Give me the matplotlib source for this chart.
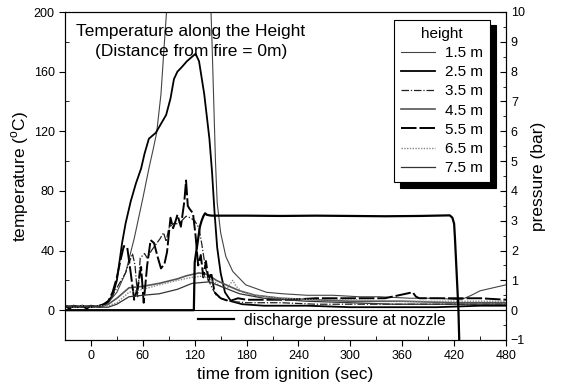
import matplotlib
matplotlib.use("Agg")
import matplotlib.pyplot as plt
from matplotlib.ticker import MultipleLocator

plt.rcParams['font.family'] = ['Liberation Sans', 'DejaVu Sans']

# temperature at each height (time in sec, temperature in degC)
t_15 = [-30, -20, -10, 0, 10, 15, 20, 30, 40, 50, 60, 67, 72, 76, 81, 85, 88, 95,
        130, 138, 140, 142, 144, 146, 150, 156, 164, 179, 203, 222, 250, 280, 310,
        334, 370, 400, 428, 440, 450, 465, 480]
T_15 = [2, 3, 2, 3, 2, 3, 5, 12, 25, 48, 75, 95, 108, 119, 145, 180, 205, 240,
        240, 215, 180, 140, 100, 72, 52, 36, 26, 17, 12, 11, 10, 10, 9,
        9, 8, 8, 7, 10, 13, 15, 17]

t_25 = [-30, -20, -10, 0, 10, 15, 20, 25, 30, 36, 40, 46, 52, 58, 62, 67, 75, 81, 87,
        92, 96, 100, 105, 111, 117, 121, 125, 131, 137, 140, 143, 146, 150, 155,
        162, 175, 200, 250, 300, 350, 400, 450, 480]
T_25 = [3, 2, 3, 2, 3, 4, 6, 10, 20, 45, 58, 73, 85, 95, 105, 115, 119, 125, 131,
        142, 155, 160, 163, 167, 170, 172, 167, 145, 115, 93, 65, 42, 25, 12,
        6, 4, 3, 3, 2, 2, 2, 3, 3]

t_35 = [-30, -20, -10, 0, 10, 20, 30, 40, 48, 51, 54, 57, 62, 65, 70, 75, 80, 84,
        87, 90, 95, 100, 105, 110, 115, 120, 125, 128, 132, 136, 140, 145, 150,
        160, 180, 220, 260, 300, 340, 380, 420, 450, 480]
T_35 = [2, 3, 2, 3, 2, 5, 15, 25, 38, 30, 9, 35, 38, 35, 40, 44, 48, 52,
        46, 55, 58, 58, 60, 63, 62, 60, 55, 45, 30, 20, 15, 10, 8,
        6, 5, 5, 4, 4, 4, 4, 4, 4, 4]

t_45 = [-30, -20, -10, 0, 10, 20, 30, 40, 44, 60, 79, 100, 110, 125, 135, 145,
        160, 172, 190, 220, 260, 300, 360, 420, 480]
T_45 = [2, 3, 2, 3, 2, 4, 8, 13, 15, 16, 18, 21, 23, 25, 24, 20,
        16, 13, 10, 8, 7, 6, 6, 5, 5]

t_55 = [-30, -25, -20, -15, -10, -5, 0, 5, 10, 15, 20, 25, 30, 34, 38, 42, 46, 50,
        54, 58, 61, 65, 69, 73, 77, 81, 85, 88, 92, 95, 98, 100, 104, 108, 110,
        112, 114, 118, 121, 124, 127, 130, 133, 136, 139, 143, 150, 160, 170, 180,
        200, 230, 260, 300, 340, 372, 376, 380, 420, 450, 480]
T_55 = [3, 1, 3, 2, 3, 1, 3, 2, 3, 4, 6, 12, 22, 33, 43, 42, 25, 7,
        15, 29, 5, 30, 47, 45, 36, 28, 31, 39, 62, 55, 60, 64, 56, 73, 87,
        70, 68, 65, 50, 30, 37, 22, 33, 20, 25, 12, 8, 6, 8, 7,
        7, 7, 8, 8, 8, 12, 9, 8, 8, 8, 7]

t_65 = [-30, -20, -10, 0, 10, 20, 30, 44, 60, 79, 100, 117, 130, 140, 150, 158, 164,
        168, 175, 190, 220, 260, 300, 360, 420, 480]
T_65 = [3, 2, 3, 2, 3, 3, 5, 12, 14, 17, 20, 22, 23, 20, 16, 15, 20,
        16, 12, 10, 8, 7, 7, 6, 6, 6]

t_75 = [-30, -20, -10, 0, 10, 20, 30, 44, 60, 79, 100, 117, 137, 150, 172, 200,
        250, 300, 350, 400, 450, 480]
T_75 = [2, 3, 2, 3, 2, 2, 4, 9, 10, 11, 14, 18, 19, 16, 11, 8,
        6, 5, 4, 4, 4, 4]

# discharge pressure at nozzle (bar)
t_p = [-30, 119, 120, 122, 124, 126, 128, 130, 132, 134, 137, 140, 180, 220, 260,
       300, 340, 380, 415, 418, 420, 421, 423, 425, 426]
P = [0, 0, 1.6, 2.0, 2.4, 2.8, 3.0, 3.15, 3.25, 3.2, 3.18, 3.17, 3.17, 3.16, 3.17,
     3.16, 3.15, 3.16, 3.18, 3.1, 2.9, 2.4, 1.2, 0, -1.1]

heights = ['1.5 m', '2.5 m', '3.5 m', '4.5 m', '5.5 m', '6.5 m', '7.5 m']
series = [(t_15, T_15), (t_25, T_25), (t_35, T_35), (t_45, T_45),
          (t_55, T_55), (t_65, T_65), (t_75, T_75)]
styles = [('#444444', '-', 0.8), ('black', '-', 1.3), ('#222222', (0, (6, 1.5, 1, 1.5)), 0.9),
          ('#555555', '-', 1.2), ('black', (0, (8, 1.5)), 1.4), ('#888888', (0, (1, 1)), 1.0),
          ('#333333', '-', 0.9)]

fig = plt.figure(figsize=(5.62, 3.86), dpi=100)
ax = fig.add_axes([65/562, 46/386, 441/562, 328/386])
ax2 = ax.twinx()

lines = []
for (tt, TT), lab, (c, ls, lw) in zip(series, heights, styles):
    ln, = ax.plot(tt, TT, color=c, linestyle=ls, linewidth=lw, label=lab)
    lines.append(ln)
ax.axhline(0, color='black', linewidth=0.8)

ax2.plot(t_p, P, color='black', linewidth=1.6, label='discharge pressure at nozzle')

ax.set_xlim(-30, 480)
ax.set_ylim(-20, 200)
ax2.set_ylim(-1, 10)

ax.xaxis.set_major_locator(MultipleLocator(60))
ax.xaxis.set_minor_locator(MultipleLocator(30))
ax.yaxis.set_major_locator(MultipleLocator(40))
ax.yaxis.set_minor_locator(MultipleLocator(20))
ax2.yaxis.set_major_locator(MultipleLocator(1))
ax2.yaxis.set_minor_locator(MultipleLocator(0.5))
ax.tick_params(which='major', direction='out', length=4, labelsize=9)
ax.tick_params(which='minor', direction='in', length=3)
ax2.tick_params(which='major', direction='in', length=4, labelsize=9)
ax2.tick_params(which='minor', direction='in', length=2)

ax.set_xlabel('time from ignition (sec)', fontsize=12.5, labelpad=3)
ax.set_ylabel('temperature ($^{\\mathregular{o}}$C)', fontsize=12.5, labelpad=2)
ax2.set_ylabel('pressure (bar)', fontsize=12.5, labelpad=4)

ax.text(0.285, 0.91, 'Temperature along the Height\n(Distance from fire = 0m)',
        transform=ax.transAxes, ha='center', va='center', fontsize=12.5,
        multialignment='center', linespacing=1.35)

leg = ax2.legend(lines, heights, title='height', loc='upper right',
                 bbox_to_anchor=(0.964, 0.976), borderaxespad=0,
                 fontsize=11, title_fontsize=11,
                 fancybox=False, edgecolor='black', framealpha=1, handlelength=2.2,
                 handletextpad=0.7, labelspacing=0.34, borderpad=0.45,
                 shadow={'ox': 4, 'oy': -4, 'facecolor': 'black',
                         'edgecolor': 'black', 'alpha': 1})
leg.get_frame().set_linewidth(0.8)
ax2.add_artist(leg)
ax2.legend(loc='lower left', bbox_to_anchor=(0.27, -0.005), frameon=False,
           fontsize=11.3, handlelength=2.3, handletextpad=0.6)

fig.savefig('out.png', dpi=100)
